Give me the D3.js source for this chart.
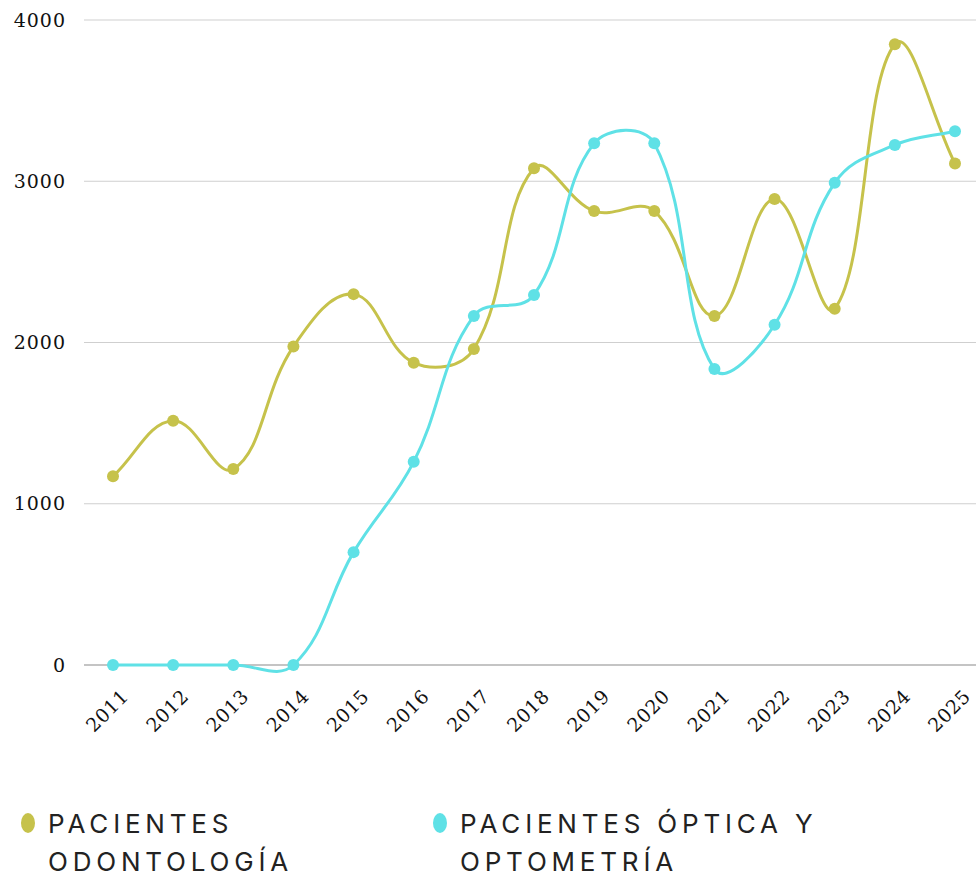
<!DOCTYPE html>
<html>
<head>
<meta charset="utf-8">
<script src="https://cdn.jsdelivr.net/npm/d3@7"></script>
<style>
body { margin: 0; background: #fff; }
</style>
</head>
<body>
<script>
var years = ["2011","2012","2013","2014","2015","2016","2017","2018","2019","2020","2021","2022","2023","2024","2025"];
var odontologia = [1170, 1515, 1215, 1975, 2300, 1875, 1960, 3080, 2815, 2815, 2165, 2890, 2210, 3850, 3110];
var optica = [0, 0, 0, 0, 700, 1260, 2165, 2295, 3235, 3235, 1835, 2110, 2990, 3225, 3310];
var yTicks = [0, 1000, 2000, 3000, 4000];
var seriesNames = [["PACIENTES", "ODONTOLOGÍA"], ["PACIENTES ÓPTICA Y", "OPTOMETRÍA"]];
var colors = ["#c6c24b", "#5fe1e6"];

var W = 976, H = 874;
var svg = d3.select("body").append("svg").attr("width", W).attr("height", H);

var x = d3.scalePoint().domain(years).range([113, 955]);
var y = d3.scaleLinear().domain([0, 4000]).range([665, 20]);

var tickFont = "'DejaVu Serif', 'Liberation Serif', serif";

// grid
svg.append("g").selectAll("line").data(yTicks).enter().append("line")
    .attr("x1", 84).attr("x2", 976)
    .attr("y1", function(d){ return y(d); })
    .attr("y2", function(d){ return y(d); })
    .attr("stroke", function(d){ return d === 0 ? "#8a8a8a" : "#cfcfcf"; })
    .attr("stroke-width", 1.2);

svg.append("g").selectAll("text").data(yTicks).enter().append("text")
    .attr("x", 66).attr("y", function(d){ return y(d); })
    .attr("dy", "0.35em")
    .attr("text-anchor", "end")
    .style("font-family", tickFont).style("font-size", "19px").style("letter-spacing", "1px").attr("fill", "#111")
    .text(function(d){ return d; });

svg.append("g").selectAll("text").data(years).enter().append("text")
    .attr("transform", function(d){ return "translate(" + (x(d) + 7) + ",688) rotate(-45)"; })
    .attr("text-anchor", "end")
    .attr("dy", "0.72em")
    .style("font-family", tickFont).style("font-size", "19px").style("letter-spacing", "0.5px").attr("fill", "#111")
    .text(function(d){ return d; });

// spline like the one of Chart.js (tension 0.4)
function splinePath(s){
    var pts = s.map(function(d, i){ return [x(years[i]), y(d)]; });
    var t = 0.4, p = d3.path(), cps = [];
    pts.forEach(function(c, i){
        var prev = pts[Math.max(i - 1, 0)], next = pts[Math.min(i + 1, pts.length - 1)];
        var d01 = Math.hypot(c[0] - prev[0], c[1] - prev[1]);
        var d12 = Math.hypot(next[0] - c[0], next[1] - c[1]);
        var s01 = d01 / (d01 + d12 || 1), s12 = d12 / (d01 + d12 || 1);
        var fa = t * s01, fb = t * s12;
        cps.push({
            prev: [c[0] - fa * (next[0] - prev[0]), c[1] - fa * (next[1] - prev[1])],
            next: [c[0] + fb * (next[0] - prev[0]), c[1] + fb * (next[1] - prev[1])]
        });
    });
    p.moveTo(pts[0][0], pts[0][1]);
    for (var i = 1; i < pts.length; i++) {
        p.bezierCurveTo(cps[i - 1].next[0], cps[i - 1].next[1], cps[i].prev[0], cps[i].prev[1], pts[i][0], pts[i][1]);
    }
    return p.toString();
}

[odontologia, optica].forEach(function(s, k){
    svg.append("path")
        .attr("d", splinePath(s))
        .attr("fill", "none")
        .attr("stroke", colors[k])
        .attr("stroke-width", 3);
    svg.append("g").selectAll("circle").data(s).enter().append("circle")
        .attr("cx", function(d, i){ return x(years[i]); })
        .attr("cy", function(d){ return y(d); })
        .attr("r", 6)
        .attr("fill", colors[k]);
});

// legend
var legX = [28, 440];
seriesNames.forEach(function(lines, k){
    var g = svg.append("g").attr("transform", "translate(" + legX[k] + ",823)");
    g.append("ellipse").attr("rx", 7).attr("ry", 10).attr("fill", colors[k]);
    lines.forEach(function(t, j){
        g.append("text")
            .attr("x", 20).attr("y", 10 + j * 38)
            .style("font-family", "Inter, 'Noto Sans', sans-serif")
            .style("font-size", "26px")
            .style("letter-spacing", "4.8px")
            .attr("fill", "#222")
            .text(t);
    });
});
</script>
</body>
</html>
